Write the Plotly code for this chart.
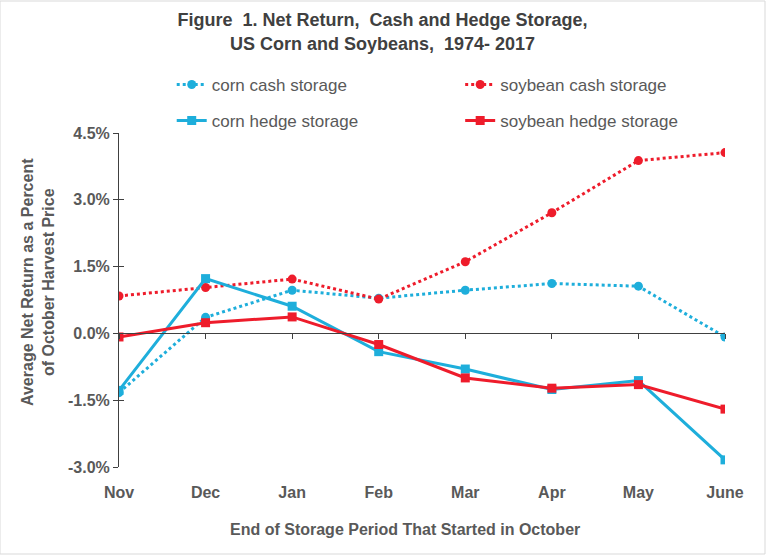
import plotly.graph_objects as go

months = ["Nov", "Dec", "Jan", "Feb", "Mar", "Apr", "May", "June"]
corn_cash = [-1.33, 0.36, 0.97, 0.79, 0.97, 1.12, 1.06, -0.08]
soy_cash = [0.84, 1.03, 1.22, 0.77, 1.61, 2.71, 3.88, 4.06]
corn_hedge = [-1.28, 1.23, 0.61, -0.41, -0.80, -1.26, -1.06, -2.84]
soy_hedge = [-0.08, 0.24, 0.37, -0.25, -1.00, -1.23, -1.15, -1.70]
y_ticks = [-3.0, -1.5, 0.0, 1.5, 3.0, 4.5]

BLUE = "#1EAEDB"
RED = "#EE1C2B"
GRAY = "#595959"
FONT = "Liberation Sans"

x = list(range(len(months)))

fig = go.Figure()
fig.add_trace(go.Scatter(x=x, y=corn_cash, name="corn cash storage", mode="lines+markers",
                         line=dict(color=BLUE, width=3, dash="dot"),
                         marker=dict(symbol="circle", size=9, color=BLUE), legend="legend"))
fig.add_trace(go.Scatter(x=x, y=soy_cash, name="soybean cash storage", mode="lines+markers",
                         line=dict(color=RED, width=3, dash="dot"),
                         marker=dict(symbol="circle", size=9, color=RED), legend="legend2"))
fig.add_trace(go.Scatter(x=x, y=corn_hedge, name="corn hedge storage", mode="lines+markers",
                         line=dict(color=BLUE, width=3),
                         marker=dict(symbol="square", size=9, color=BLUE), legend="legend3"))
fig.add_trace(go.Scatter(x=x, y=soy_hedge, name="soybean hedge storage", mode="lines+markers",
                         line=dict(color=RED, width=3),
                         marker=dict(symbol="square", size=9, color=RED), legend="legend4"))
# invisible helper trace to host the zero-line axis and inner y ticks
fig.add_trace(go.Scatter(x=x, y=[None] * len(x), xaxis="x2", yaxis="y2", showlegend=False,
                         hoverinfo="skip", mode="lines"))

legend_common = dict(orientation="h", xanchor="left", yanchor="middle",
                     font=dict(family=FONT, size=17, color=GRAY), itemwidth=30,
                     bgcolor="rgba(0,0,0,0)")
col1, col2 = 0.087, 0.563
row1, row2 = 1 + 48 / 334, 1 + 12 / 334

fig.update_layout(
    width=768, height=557,
    margin=dict(l=119, r=43, t=133, b=90),
    paper_bgcolor="white", plot_bgcolor="white",
    font=dict(family=FONT, color=GRAY, size=14),
    title=dict(text="<b>Figure  1. Net Return,  Cash and Hedge Storage,<br>US Corn and Soybeans,  1974- 2017</b>",
               x=0.498, xanchor="center", y=0.953, yanchor="top",
               font=dict(family=FONT, size=18, color="#404040")),
    xaxis=dict(range=[0, 7], tickmode="array", tickvals=x, ticktext=months,
               showline=False, showgrid=False, zeroline=False, ticks="",
               tickfont=dict(family=FONT, size=16, color=GRAY, weight="bold"),
               ticklabelstandoff=14),
    xaxis2=dict(range=[0, 7], overlaying="x", anchor="free", position=0.4,
                tickmode="array", tickvals=x, showticklabels=False,
                ticks="outside", ticklen=5, tickcolor="#404040",
                showline=True, linecolor="#404040", linewidth=1, showgrid=False, zeroline=False),
    yaxis=dict(range=[-3.0, 4.5], tickmode="array", tickvals=y_ticks,
               ticktext=[f"{v:.1f}%" for v in y_ticks],
               showline=True, linecolor="#404040", linewidth=1, showgrid=False, zeroline=False,
               ticks="outside", ticklen=5, tickcolor="#404040",
               tickfont=dict(family=FONT, size=16, color=GRAY, weight="bold")),
    yaxis2=dict(range=[-3.0, 4.5], overlaying="y", anchor="x", side="left",
                tickmode="array", tickvals=y_ticks, showticklabels=False,
                ticks="inside", ticklen=5, tickcolor="#404040",
                showline=False, showgrid=False, zeroline=False),
    legend=dict(legend_common, x=col1, y=row1),
    legend2=dict(legend_common, x=col2, y=row1),
    legend3=dict(legend_common, x=col1, y=row2),
    legend4=dict(legend_common, x=col2, y=row2),
    annotations=[
        dict(text="<b>End of Storage Period That Started in October</b>",
             xref="paper", yref="paper", x=(405 - 119) / 606, y=-62 / 334,
             xanchor="center", yanchor="middle", showarrow=False,
             font=dict(family=FONT, size=16, color=GRAY)),
        dict(text="<b>Average Net Return as a Percent<br>of October Harvest Price</b>",
             xref="paper", yref="paper", x=(38 - 119) / 606, y=(467 - 282) / 334,
             xanchor="center", yanchor="middle", showarrow=False, textangle=-90,
             font=dict(family=FONT, size=16, color=GRAY)),
    ],
    shapes=[dict(type="rect", xref="paper", yref="paper", x0=-119/606, x1=1 + 40/606,
                 y0=-87/334, y1=1 + 132/334, line=dict(color="#D9D9D9", width=1))],
    showlegend=True,
)

fig.write_html("out.html")
